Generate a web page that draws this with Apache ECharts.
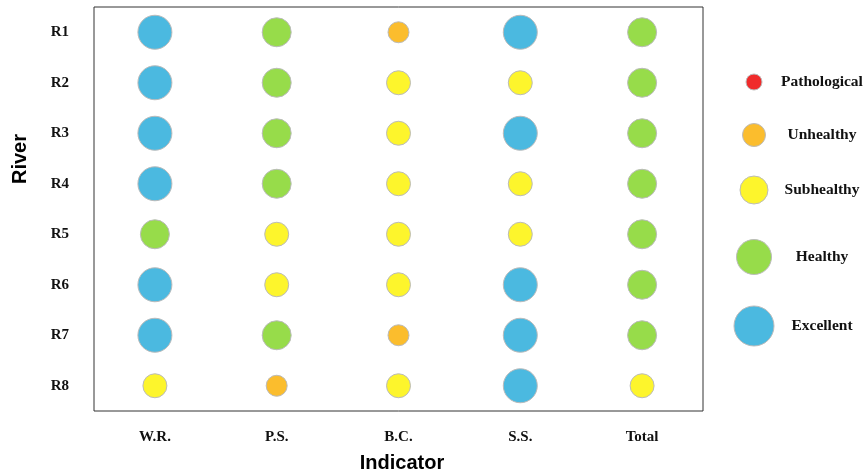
<!DOCTYPE html>
<html><head><meta charset="utf-8">
<script src="https://cdn.jsdelivr.net/npm/echarts@6/dist/echarts.min.js"></script>
<style>html,body{margin:0;padding:0;background:#fff}#c{width:865px;height:475px}</style>
</head><body><div id="c"></div>
<script>
var indicators = ['W.R.', 'P.S.', 'B.C.', 'S.S.', 'Total'];
var rivers = ['R1', 'R2', 'R3', 'R4', 'R5', 'R6', 'R7', 'R8'];
var levelNames = ['Pathological', 'Unhealthy', 'Subhealthy', 'Healthy', 'Excellent'];
// level per river (R1..R8) for each indicator: 1=Pathological ... 5=Excellent
var wr    = [5, 5, 5, 5, 4, 5, 5, 3];
var ps    = [4, 4, 4, 4, 3, 3, 4, 2];
var bc    = [2, 3, 3, 3, 3, 3, 2, 3];
var ss    = [5, 3, 5, 3, 3, 5, 5, 5];
var total = [4, 4, 4, 4, 4, 4, 4, 3];

var levelColors = ['#f02b2b', '#fbbd2d', '#fdf52c', '#97dc4a', '#4bb9e0'];
var plotSizes = [16, 21, 24, 29, 34];
var legendSizes = [16, 23, 28, 35, 40];
var legendY = [82, 135, 190, 257, 326];

var cols = [wr, ps, bc, ss, total];
var data = [];
cols.forEach(function (col, i) {
  col.forEach(function (lv, j) {
    data.push({
      value: [indicators[i], rivers[j], lv],
      symbolSize: plotSizes[lv - 1],
      itemStyle: { color: levelColors[lv - 1] }
    });
  });
});

var graphics = [];
levelNames.forEach(function (n, k) {
  graphics.push({
    type: 'circle', shape: { cx: 754, cy: legendY[k], r: legendSizes[k] / 2 },
    style: { fill: levelColors[k], stroke: '#bbbbbb', lineWidth: 1 }
  });
  graphics.push({
    type: 'text', x: 822, y: legendY[k],
    style: { text: n, font: 'bold 15.5px "Liberation Serif"', fill: '#111', textAlign: 'center', textVerticalAlign: 'middle' }
  });
});
graphics.push({
  type: 'text', x: 20, y: 159, rotation: Math.PI / 2,
  style: { text: 'River', font: 'bold 20px "Liberation Sans"', fill: '#000', textAlign: 'center', textVerticalAlign: 'middle' }
});
graphics.push({
  type: 'text', x: 402, y: 463,
  style: { text: 'Indicator', font: 'bold 20px "Liberation Sans"', fill: '#000', textAlign: 'center', textVerticalAlign: 'middle' }
});

var chart = echarts.init(document.getElementById('c'), null, { renderer: 'canvas' });
chart.setOption({
  animation: false,
  grid: { left: 94, top: 7, width: 609, height: 404, show: true, borderColor: '#333', borderWidth: 1, backgroundColor: '#fff' },
  xAxis: {
    type: 'category', data: indicators,
    axisLine: { show: false }, axisTick: { show: false }, splitLine: { show: false },
    axisLabel: { margin: 19, fontFamily: 'Liberation Serif', fontWeight: 'bold', fontSize: 15, color: '#111' }
  },
  yAxis: {
    type: 'category', data: rivers, inverse: true,
    axisLine: { show: false }, axisTick: { show: false }, splitLine: { show: false },
    axisLabel: { margin: 25, fontFamily: 'Liberation Serif', fontWeight: 'bold', fontSize: 15, color: '#111' }
  },
  series: [{
    type: 'scatter', data: data,
    itemStyle: { borderColor: '#bbbbbb', borderWidth: 1, opacity: 1 }
  }],
  graphic: graphics
});
</script></body></html>
